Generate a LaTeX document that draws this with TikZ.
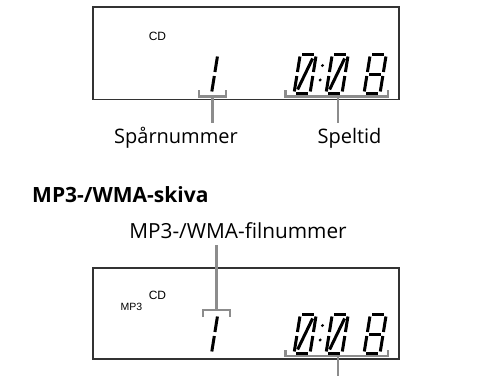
\documentclass[tikz,border=0pt]{standalone}
\usepackage{fontspec}
\setmainfont{Open Sans}
\newfontfamily\lcdfont{Liberation Sans}
\usetikzlibrary{positioning}

\begin{document}
\begin{tikzpicture}
      [
        x=1pt, y=1pt,
        caption/.style={anchor=base, inner sep=0pt, font=\fontsize{20}{24}\selectfont},
        lcdtext/.style={inner sep=0pt, font=\lcdfont\fontsize{12}{14}\selectfont},
        panel/.style={draw=black!80, line width=1.4pt, inner sep=0pt},
        brace/.style={draw=black!45, line width=2.5pt},
        seg/.style={line width=3pt, line cap=butt}
      ]
      \useasboundingbox (0,0) rectangle (485,376);
      % CD display
      \begin{scope}[]
        \node [panel, minimum width=306pt, minimum height=92.5pt] (cdpanel) at (246,322.75) {};
        \node [lcdtext] (cdmark) at (157.5,340) {CD};
        % track number
        \begin{scope}[shift={(211.5,282.5)}, xslant=0.16]
          \foreach \ya/\yb in {2/17.5, 21.5/37} {
              \draw [seg] (0,\ya) -- (0,\yb);
          }
        \end{scope}
        % time 0:08
        \foreach \dx in {294,326} {
          \begin{scope}[shift={(\dx,282.5)}, xslant=0.16]
            \foreach \xa/\ya/\xb/\yb in {2/39/14/39, 16/37/16/21.5, 16/17.5/16/2, 2/0/14/0, 0/2/0/17.5, 0/21.5/0/37, 3/4/13/35} {
                \draw [seg] (\xa,\ya) -- (\xb,\yb);
            }
          \end{scope}
        }
        \begin{scope}[shift={(364,282.5)}, xslant=0.16]
          \foreach \xa/\ya/\xb/\yb in {2/39/14/39, 16/37/16/21.5, 16/17.5/16/2, 2/0/14/0, 0/2/0/17.5, 0/21.5/0/37, 2/19.5/14/19.5} {
              \draw [seg] (\xa,\ya) -- (\xb,\yb);
          }
        \end{scope}
        \begin{scope}[shift={(318,282.5)}, xslant=0.16]
          \fill (0,13.5) circle (1.6);
          \fill (0,28) circle (1.6);
        \end{scope}
        % brackets
        \draw [brace] (199,286) -- (199,279.5) -- (226,279.5) -- (226,286);
        \draw [brace] (285.5,286) -- (285.5,279.5) -- (388,279.5) -- (388,286);
        \coordinate (trk) at (212.5,279.5);
        \coordinate (trkend) at (212.5,253);
        \coordinate (tim) at (338,279.5);
        \coordinate (timend) at (338,253);
        \draw [brace] (trk) -- (trkend);
        \draw [brace] (tim) -- (timend);
        % labels
        \node [caption] (trklabel) at (176,233) {Spårnummer};
        \node [caption] (timlabel) at (349.5,233) {Speltid};
      \end{scope}
      % MP3/WMA display
      \begin{scope}[]
        \node [anchor=base west, inner sep=0pt, font=\fontsize{21}{25}\selectfont\bfseries] (mp3head) at (32,174) {MP3-/WMA-skiva};
        \node [caption, font=\fontsize{20.8}{25}\selectfont] (filelabel) at (238,138) {MP3-/WMA-filnummer};
        \node [panel, minimum width=306pt, minimum height=91pt] (mp3panel) at (246,62.5) {};
        \node [lcdtext] (cdmark2) at (157.5,81) {CD};
        \node [lcdtext, font=\lcdfont\fontsize{10.5}{12}\selectfont] (mp3mark) at (131.5,69) {MP3};
        % file number
        \begin{scope}[shift={(211.5,22.5)}, xslant=0.16]
          \foreach \ya/\yb in {2/17.5, 21.5/37} {
              \draw [seg] (0,\ya) -- (0,\yb);
          }
        \end{scope}
        % time 0:08
        \foreach \dx in {294,326} {
          \begin{scope}[shift={(\dx,22.5)}, xslant=0.16]
            \foreach \xa/\ya/\xb/\yb in {2/39/14/39, 16/37/16/21.5, 16/17.5/16/2, 2/0/14/0, 0/2/0/17.5, 0/21.5/0/37, 3/4/13/35} {
                \draw [seg] (\xa,\ya) -- (\xb,\yb);
            }
          \end{scope}
        }
        \begin{scope}[shift={(364,22.5)}, xslant=0.16]
          \foreach \xa/\ya/\xb/\yb in {2/39/14/39, 16/37/16/21.5, 16/17.5/16/2, 2/0/14/0, 0/2/0/17.5, 0/21.5/0/37, 2/19.5/14/19.5} {
              \draw [seg] (\xa,\ya) -- (\xb,\yb);
          }
        \end{scope}
        \begin{scope}[shift={(318,22.5)}, xslant=0.16]
          \fill (0,13.5) circle (1.6);
          \fill (0,28) circle (1.6);
        \end{scope}
        % brackets
        \draw [brace] (203,59) -- (203,66) -- (230,66) -- (230,59);
        \draw [brace] (285.5,26) -- (285.5,20) -- (388,20) -- (388,26);
        \coordinate (fil) at (216.5,66);
        \coordinate (filend) at (216.5,131);
        \coordinate (tim2) at (338,20);
        \coordinate (tim2end) at (338,0);
        \draw [brace] (fil) -- (filend);
        \draw [brace] (tim2) -- (tim2end);
      \end{scope}
    \end{tikzpicture}
\end{document}
